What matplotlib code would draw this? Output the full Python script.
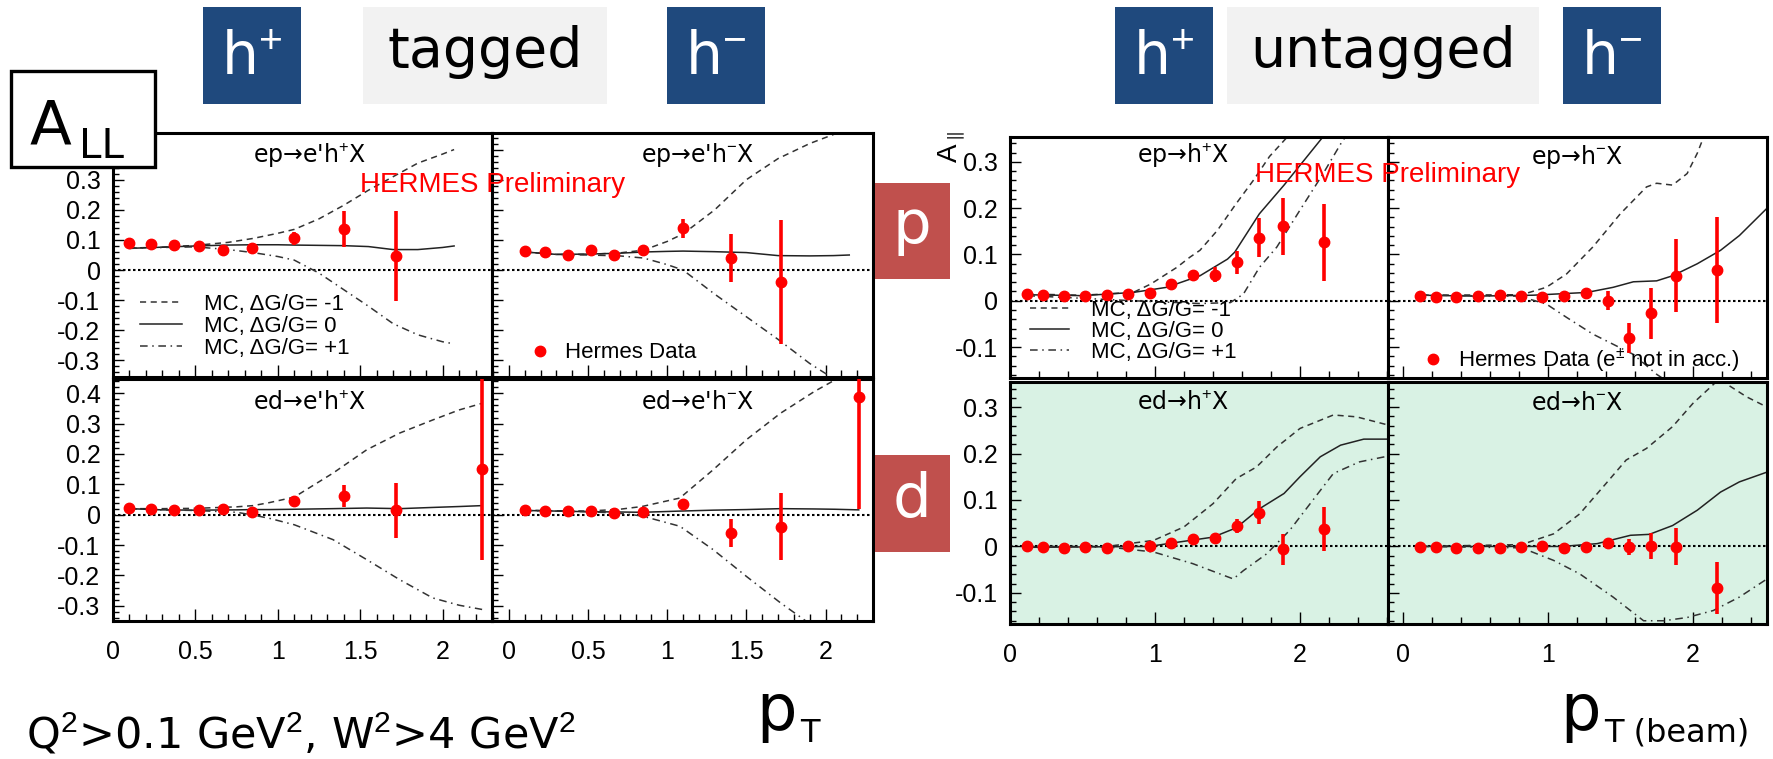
import numpy as np
import matplotlib
matplotlib.use("Agg")
import matplotlib.pyplot as plt
from matplotlib.patches import Rectangle
from matplotlib.ticker import MultipleLocator, FuncFormatter

plt.rcParams['font.family'] = ['Liberation Sans', 'DejaVu Sans']
plt.rcParams['axes.unicode_minus'] = False
plt.rcParams['mathtext.fontset'] = 'custom'
plt.rcParams['mathtext.rm'] = 'Liberation Sans'
plt.rcParams['mathtext.it'] = 'Liberation Sans:italic'

#------------------------------------------------------------------#
# data
# tagged sample (scattered e' in acceptance)
x_tag = [0.10, 0.23, 0.37, 0.52, 0.665, 0.845, 1.10, 1.40, 1.72]
x_tag_ed_hp = x_tag + [2.24]
x_tag_ed_hm = x_tag + [2.21]

a_tag_ep_hp = [0.090, 0.086, 0.082, 0.081, 0.066, 0.074, 0.105, 0.137, 0.046]
e_tag_ep_hp = [0.004, 0.004, 0.004, 0.004, 0.004, 0.005, 0.022, 0.060, 0.150]
a_tag_ep_hm = [0.064, 0.061, 0.050, 0.068, 0.051, 0.066, 0.138, 0.039, -0.039]
e_tag_ep_hm = [0.004, 0.004, 0.004, 0.004, 0.005, 0.006, 0.032, 0.080, 0.205]
a_tag_ed_hp = [0.022, 0.019, 0.016, 0.016, 0.020, 0.008, 0.044, 0.062, 0.014, 0.151]
e_tag_ed_hp = [0.003, 0.003, 0.003, 0.003, 0.004, 0.005, 0.010, 0.036, 0.090, 0.300]
a_tag_ed_hm = [0.014, 0.011, 0.012, 0.012, 0.005, 0.009, 0.036, -0.060, -0.040, 0.389]
e_tag_ed_hm = [0.003, 0.003, 0.003, 0.003, 0.004, 0.005, 0.010, 0.045, 0.110, 0.370]

# MC curves, tagged (dG/G = -1, 0, +1)
mc_tag_ep_hp_x = [0.10, 0.30, 0.50, 0.70, 0.85, 1.00, 1.10, 1.25, 1.40, 1.55, 1.70, 1.85, 2.00, 2.07]
mc_tag_ep_hp_m1 = [0.073, 0.076, 0.082, 0.092, 0.105, 0.122, 0.135, 0.170, 0.215, 0.265, 0.310, 0.355, 0.385, 0.400]
mc_tag_ep_hp_0 = [0.072, 0.076, 0.080, 0.083, 0.084, 0.084, 0.083, 0.082, 0.081, 0.078, 0.068, 0.068, 0.075, 0.080]
mc_tag_ep_hp_p1 = [0.072, 0.075, 0.077, 0.068, 0.058, 0.045, 0.033, -0.010, -0.065, -0.120, -0.178, -0.215, -0.238, -0.245]

mc_tag_ep_hm_x = [0.10, 0.30, 0.50, 0.70, 0.85, 1.00, 1.10, 1.30, 1.50, 1.70, 1.90, 2.05, 2.15]
mc_tag_ep_hm_m1 = [0.060, 0.052, 0.052, 0.057, 0.066, 0.095, 0.120, 0.200, 0.300, 0.370, 0.420, 0.450, 0.470]
mc_tag_ep_hm_0 = [0.060, 0.052, 0.053, 0.056, 0.060, 0.062, 0.063, 0.061, 0.058, 0.048, 0.047, 0.048, 0.050]
mc_tag_ep_hm_p1 = [0.060, 0.052, 0.050, 0.047, 0.040, 0.018, 0.000, -0.080, -0.155, -0.230, -0.310, -0.360, -0.390]

mc_tag_ed_hp_x = [0.10, 0.30, 0.50, 0.75, 0.85, 0.95, 1.10, 1.335, 1.54, 1.74, 1.94, 2.10, 2.24]
mc_tag_ed_hp_m1 = [0.020, 0.020, 0.021, 0.026, 0.030, 0.040, 0.058, 0.137, 0.214, 0.269, 0.312, 0.345, 0.367]
mc_tag_ed_hp_0 = [0.020, 0.016, 0.015, 0.016, 0.017, 0.017, 0.018, 0.020, 0.022, 0.020, 0.024, 0.027, 0.030]
mc_tag_ed_hp_p1 = [0.020, 0.016, 0.014, 0.008, -0.001, -0.012, -0.033, -0.082, -0.148, -0.214, -0.274, -0.298, -0.312]

mc_tag_ed_hm_x = [0.10, 0.30, 0.50, 0.70, 0.84, 1.08, 1.29, 1.50, 1.715, 1.93, 2.06, 2.21]
mc_tag_ed_hm_m1 = [0.015, 0.013, 0.012, 0.018, 0.027, 0.055, 0.148, 0.247, 0.334, 0.406, 0.444, 0.480]
mc_tag_ed_hm_0 = [0.014, 0.012, 0.010, 0.009, 0.008, 0.012, 0.015, 0.017, 0.020, 0.019, 0.018, 0.016]
mc_tag_ed_hm_p1 = [0.014, 0.012, 0.010, 0.005, -0.004, -0.038, -0.115, -0.203, -0.290, -0.370, -0.400, -0.430]

# untagged sample (pT w.r.t. beam)
x_unt = [0.12, 0.23, 0.37, 0.52, 0.67, 0.815, 0.963, 1.113, 1.262, 1.412, 1.563, 1.714, 1.883, 2.165]

a_unt_ep_hp = [0.0145, 0.012, 0.011, 0.011, 0.013, 0.0145, 0.017, 0.036, 0.0565, 0.056, 0.083, 0.136, 0.161, 0.126]
e_unt_ep_hp = [0.003, 0.003, 0.003, 0.003, 0.003, 0.003, 0.004, 0.005, 0.006, 0.016, 0.025, 0.042, 0.062, 0.083]
a_unt_ep_hm = [0.011, 0.009, 0.009, 0.010, 0.0115, 0.011, 0.008, 0.011, 0.016, 0.000, -0.081, -0.027, 0.054, 0.067]
e_unt_ep_hm = [0.003, 0.003, 0.003, 0.003, 0.003, 0.003, 0.004, 0.005, 0.006, 0.020, 0.033, 0.055, 0.079, 0.115]
a_unt_ed_hp = [0.000, -0.001, -0.003, -0.002, -0.003, 0.001, 0.000, 0.007, 0.015, 0.018, 0.044, 0.073, -0.0065, 0.038]
e_unt_ed_hp = [0.002, 0.002, 0.002, 0.002, 0.002, 0.002, 0.003, 0.004, 0.005, 0.007, 0.015, 0.024, 0.034, 0.047]
a_unt_ed_hm = [-0.001, -0.001, -0.003, -0.004, -0.003, -0.001, 0.001, -0.003, -0.001, 0.007, -0.001, 0.001, -0.001, -0.089]
e_unt_ed_hm = [0.002, 0.002, 0.002, 0.002, 0.002, 0.002, 0.003, 0.004, 0.005, 0.007, 0.018, 0.027, 0.040, 0.056]

# MC curves, untagged
mc_unt_ep_hp_m1 = ([0.12, 0.50, 0.85, 0.97, 1.15, 1.24, 1.31, 1.43, 1.56, 1.68, 1.79, 1.93, 2.00],
                   [0.0145, 0.012, 0.018, 0.036, 0.072, 0.094, 0.109, 0.152, 0.210, 0.261, 0.312, 0.360, 0.380])
mc_unt_ep_hp_0 = ([0.12, 0.50, 0.85, 1.08, 1.31, 1.50, 1.55, 1.72, 1.89, 2.15, 2.25],
                  [0.013, 0.011, 0.018, 0.029, 0.054, 0.090, 0.105, 0.188, 0.250, 0.351, 0.390])
mc_unt_ep_hp_p1 = ([0.12, 0.85, 1.31, 1.52, 1.61, 1.72, 1.84, 2.00, 2.16, 2.29, 2.40],
                   [0.011, 0.000, -0.006, -0.004, 0.0145, 0.072, 0.116, 0.196, 0.275, 0.344, 0.390])

mc_unt_ep_hm_m1 = ([0.13, 0.82, 0.99, 1.13, 1.31, 1.50, 1.68, 1.75, 1.86, 1.96, 2.03, 2.07, 2.12],
                   [0.012, 0.013, 0.029, 0.058, 0.116, 0.188, 0.246, 0.254, 0.250, 0.275, 0.319, 0.351, 0.390])
mc_unt_ep_hm_0 = ([0.13, 0.50, 0.90, 1.27, 1.45, 1.59, 1.75, 1.86, 2.03, 2.19, 2.32, 2.51],
                  [0.012, 0.010, 0.012, 0.018, 0.029, 0.041, 0.043, 0.054, 0.080, 0.109, 0.141, 0.200])
mc_unt_ep_hm_p1 = ([0.13, 0.80, 0.99, 1.13, 1.31, 1.45, 1.59, 1.75, 1.85],
                   [0.012, 0.010, -0.007, -0.036, -0.072, -0.094, -0.116, -0.159, -0.180])

mc_unt_ed_hp_m1 = ([0.12, 0.67, 0.99, 1.20, 1.40, 1.56, 1.70, 1.84, 2.00, 2.23, 2.39, 2.60],
                   [0.000, 0.000, 0.013, 0.042, 0.092, 0.146, 0.171, 0.214, 0.254, 0.283, 0.279, 0.262])
mc_unt_ed_hp_0 = ([0.12, 0.96, 1.11, 1.40, 1.56, 1.72, 1.89, 2.00, 2.14, 2.28, 2.44, 2.60],
                  [-0.002, 0.000, 0.007, 0.020, 0.040, 0.081, 0.114, 0.150, 0.193, 0.218, 0.231, 0.231])
mc_unt_ed_hp_p1 = ([0.12, 0.70, 0.99, 1.26, 1.54, 1.61, 1.77, 1.93, 2.07, 2.23, 2.41, 2.60],
                   [0.000, -0.002, -0.012, -0.037, -0.070, -0.052, -0.016, 0.035, 0.092, 0.157, 0.182, 0.194])

mc_unt_ed_hm_m1 = ([0.13, 0.82, 1.04, 1.22, 1.40, 1.54, 1.68, 1.86, 2.00, 2.18, 2.37, 2.51],
                   [0.000, 0.004, 0.027, 0.070, 0.135, 0.186, 0.211, 0.258, 0.308, 0.360, 0.322, 0.300])
mc_unt_ed_hm_0 = ([0.13, 1.10, 1.34, 1.57, 1.70, 1.86, 2.03, 2.19, 2.32, 2.51],
                  [0.000, 0.000, 0.006, 0.024, 0.026, 0.045, 0.078, 0.117, 0.139, 0.160])
mc_unt_ed_hm_p1 = ([0.13, 0.82, 1.04, 1.22, 1.45, 1.66, 1.80, 1.96, 2.14, 2.32, 2.51],
                   [0.000, -0.003, -0.030, -0.059, -0.109, -0.160, -0.160, -0.153, -0.138, -0.109, -0.070])

mc_labels = ["MC, \u0394G/G= -1", "MC, \u0394G/G= 0", "MC, \u0394G/G= +1"]

#------------------------------------------------------------------#
W, H = 1773, 759
fig = plt.figure(figsize=(W / 100, H / 100), dpi=100)

RED = "#ff0000"
DASH = (0, (4, 3))
DASHDOT = (0, (5, 3, 1, 3))
GREEN = "#d9f2e4"
TICKFS = 18
LEGFS = 16


def px_axes(x0, y0, x1, y1):
    # axes placed by pixel box (top-left origin)
    return fig.add_axes([x0 / W, 1 - y1 / H, (x1 - x0) / W, (y1 - y0) / H])


def setup(ax, xlim, ylim, xmaj, xmin, show_x, show_y, face="white", ylab_max=1.0):
    ax.set_xlim(xlim)
    ax.set_ylim(ylim)
    ax.set_facecolor(face)
    ax.xaxis.set_major_locator(MultipleLocator(xmaj))
    ax.xaxis.set_minor_locator(MultipleLocator(xmin))
    ax.yaxis.set_major_locator(MultipleLocator(0.1))
    ax.yaxis.set_minor_locator(MultipleLocator(0.02))
    ax.xaxis.set_major_formatter(FuncFormatter(lambda v, p: "%g" % (round(v, 3) + 0.0)))
    ax.yaxis.set_major_formatter(FuncFormatter(
        lambda v, p: "%g" % (round(v, 3) + 0.0) if v < ylab_max else ""))
    ax.tick_params(which="both", direction="in", top=False, right=False,
                   labelbottom=show_x, labelleft=show_y, labelsize=TICKFS)
    ax.tick_params(axis="y", which="major", length=8, width=1, pad=9)
    ax.tick_params(axis="y", which="minor", length=4, width=1)
    ax.tick_params(axis="x", which="major", length=9, width=1, pad=14)
    ax.tick_params(axis="x", which="minor", length=5, width=1)
    for s in ax.spines.values():
        s.set_linewidth(2.2)


def draw(ax, x, a, da, c_m1, c_0, c_p1, data_label=None):
    ax.axhline(0, color="k", lw=1.5, ls=(0, (1.2, 1.2)), zorder=1)
    l1, = ax.plot(c_m1[0], c_m1[1], color="#333333", lw=1.1, ls=DASH, label=mc_labels[0])
    l2, = ax.plot(c_0[0], c_0[1], color="#222222", lw=1.1, ls="-", label=mc_labels[1])
    l3, = ax.plot(c_p1[0], c_p1[1], color="#333333", lw=1.1, ls=DASHDOT, label=mc_labels[2])
    ax.errorbar(x, a, yerr=da, fmt="none", ecolor=RED, elinewidth=2.6, capsize=0, zorder=3)
    pts, = ax.plot(x, a, "o", color=RED, ms=7.5, zorder=4, label=data_label)
    return [l1, l2, l3], pts


tag_lim_l = (0.0, 2.30)
tag_lim_r = (-0.107, 2.30)
unt_lim_l = (0.0, 2.607)
unt_lim_r = (-0.10, 2.51)
tag_ylim_top = (-0.355, 0.455)
tag_ylim_bot = (-0.35, 0.447)
unt_ylim = (-0.167, 0.354)

# tagged panels
ax = px_axes(113, 133, 492, 377)
setup(ax, tag_lim_l, tag_ylim_top, 0.5, 0.1, False, True, ylab_max=0.35)
lines, _ = draw(ax, x_tag, a_tag_ep_hp, e_tag_ep_hp,
                (mc_tag_ep_hp_x, mc_tag_ep_hp_m1), (mc_tag_ep_hp_x, mc_tag_ep_hp_0),
                (mc_tag_ep_hp_x, mc_tag_ep_hp_p1))
ax.legend(handles=lines, loc="upper left", bbox_to_anchor=(0.071, 0.34), frameon=False,
          fontsize=LEGFS, handlelength=1.9, handletextpad=1.0, labelspacing=0.05,
          borderpad=0, borderaxespad=0)

ax = px_axes(492, 133, 873, 377)
setup(ax, tag_lim_r, tag_ylim_top, 0.5, 0.1, False, False)
_, pts = draw(ax, x_tag, a_tag_ep_hm, e_tag_ep_hm,
              (mc_tag_ep_hm_x, mc_tag_ep_hm_m1), (mc_tag_ep_hm_x, mc_tag_ep_hm_0),
              (mc_tag_ep_hm_x, mc_tag_ep_hm_p1), data_label="Hermes Data")
ax.legend(handles=[pts], loc="upper left", bbox_to_anchor=(0.097, 0.142), frameon=False,
          fontsize=LEGFS, handlelength=1.0, handletextpad=0.6, borderpad=0, borderaxespad=0)

ax = px_axes(113, 379, 492, 621)
setup(ax, tag_lim_l, tag_ylim_bot, 0.5, 0.1, True, True)
draw(ax, x_tag_ed_hp, a_tag_ed_hp, e_tag_ed_hp,
     (mc_tag_ed_hp_x, mc_tag_ed_hp_m1), (mc_tag_ed_hp_x, mc_tag_ed_hp_0),
     (mc_tag_ed_hp_x, mc_tag_ed_hp_p1))

ax = px_axes(492, 379, 873, 621)
setup(ax, tag_lim_r, tag_ylim_bot, 0.5, 0.1, True, False)
draw(ax, x_tag_ed_hm, a_tag_ed_hm, e_tag_ed_hm,
     (mc_tag_ed_hm_x, mc_tag_ed_hm_m1), (mc_tag_ed_hm_x, mc_tag_ed_hm_0),
     (mc_tag_ed_hm_x, mc_tag_ed_hm_p1))

# untagged panels
ax = px_axes(1010, 137, 1388, 378)
setup(ax, unt_lim_l, unt_ylim, 1.0, 0.2, False, True)
lines, _ = draw(ax, x_unt, a_unt_ep_hp, e_unt_ep_hp, mc_unt_ep_hp_m1, mc_unt_ep_hp_0, mc_unt_ep_hp_p1)
ax.legend(handles=lines, loc="upper left", bbox_to_anchor=(0.053, 0.325), frameon=False,
          fontsize=LEGFS, handlelength=1.75, handletextpad=1.0, labelspacing=0.0,
          borderpad=0, borderaxespad=0)

ax = px_axes(1388, 137, 1767, 378)
setup(ax, unt_lim_r, unt_ylim, 1.0, 0.2, False, False)
_, pts = draw(ax, x_unt, a_unt_ep_hm, e_unt_ep_hm, mc_unt_ep_hm_m1, mc_unt_ep_hm_0, mc_unt_ep_hm_p1,
              data_label="Hermes Data (e$^{\\pm}$ not in acc.)")
ax.legend(handles=[pts], loc="upper left", bbox_to_anchor=(0.09, 0.13), frameon=False,
          fontsize=LEGFS, handlelength=1.0, handletextpad=0.6, borderpad=0, borderaxespad=0)

ax = px_axes(1010, 382, 1388, 624)
setup(ax, unt_lim_l, unt_ylim, 1.0, 0.2, True, True, face=GREEN)
draw(ax, x_unt, a_unt_ed_hp, e_unt_ed_hp, mc_unt_ed_hp_m1, mc_unt_ed_hp_0, mc_unt_ed_hp_p1)

ax = px_axes(1388, 382, 1767, 624)
setup(ax, unt_lim_r, unt_ylim, 1.0, 0.2, True, False, face=GREEN)
draw(ax, x_unt, a_unt_ed_hm, e_unt_ed_hm, mc_unt_ed_hm_m1, mc_unt_ed_hm_0, mc_unt_ed_hm_p1)

#------------------------------------------------------------------#
# slide decorations in pixel coordinates
ov = fig.add_axes([0, 0, 1, 1])
ov.set_xlim(0, W)
ov.set_ylim(H, 0)
ov.axis("off")
ov.set_zorder(10)

BLUE = "#1f497d"
GRAY = "#f2f2f2"
BOXRED = "#c0504d"
HAND = ["DejaVu Sans"]

for x0, w, c in [(203, 98, BLUE), (363, 244, GRAY), (667, 98, BLUE),
                 (1115, 98, BLUE), (1227, 312, GRAY), (1563, 98, BLUE)]:
    ov.add_patch(Rectangle((x0, 7), w, 97, facecolor=c, edgecolor="none"))
ov.text(252, 58, "h$^{+}$", color="white", fontsize=42, family=HAND, ha="center", va="center")
ov.text(485, 52, "tagged", color="black", fontsize=40, family=HAND, ha="center", va="center")
ov.text(716, 58, "h$^{-}$", color="white", fontsize=42, family=HAND, ha="center", va="center")
ov.text(1164, 58, "h$^{+}$", color="white", fontsize=42, family=HAND, ha="center", va="center")
ov.text(1383, 52, "untagged", color="black", fontsize=40, family=HAND, ha="center", va="center")
ov.text(1612, 58, "h$^{-}$", color="white", fontsize=42, family=HAND, ha="center", va="center")

# A_LL box
ov.add_patch(Rectangle((11, 71), 144, 96, facecolor="white", edgecolor="black", lw=2.4))
ov.text(30, 143, "A", fontsize=44, family=HAND, ha="left", va="baseline")
ov.text(79, 158, "LL", fontsize=29, family=HAND, ha="left", va="baseline")

# target boxes
ov.add_patch(Rectangle((875, 183), 75, 96, facecolor=BOXRED, edgecolor="none"))
ov.text(912, 226, "p", color="white", fontsize=44, family=HAND, ha="center", va="center")
ov.add_patch(Rectangle((875, 455), 75, 97, facecolor=BOXRED, edgecolor="none"))
ov.text(912, 500, "d", color="white", fontsize=44, family=HAND, ha="center", va="center")

# panel titles (DejaVu for a full-width arrow)
titles = [(310, 155, "ep\u2192e'h$^{+}$X"), (698, 155, "ep\u2192e'h$^{-}$X"),
          (310, 402, "ed\u2192e'h$^{+}$X"), (698, 402, "ed\u2192e'h$^{-}$X"),
          (1183, 155, "ep\u2192h$^{+}$X"), (1577, 157, "ep\u2192h$^{-}$X"),
          (1183, 402, "ed\u2192h$^{+}$X"), (1577, 403, "ed\u2192h$^{-}$X")]
for tx, ty, s in titles:
    ov.text(tx, ty, s, fontsize=17, family=["DejaVu Sans"], ha="center", va="center")

ov.text(360, 185, "HERMES Preliminary", color=RED, fontsize=20, ha="left", va="center")
ov.text(1255, 175, "HERMES Preliminary", color=RED, fontsize=20, ha="left", va="center")

# y title of the untagged panels
ov.text(952, 147, "A$_{\\parallel}$", fontsize=20, rotation=90, ha="center", va="center")

# bottom captions
ov.text(26, 748, "Q$^{2}$>0.1 GeV$^{2}$, W$^{2}$>4 GeV$^{2}$", fontsize=31, family=HAND,
        ha="left", va="baseline")
ov.text(756, 730, "p", fontsize=46, family=HAND, ha="left", va="baseline")
ov.text(800, 742, "T", fontsize=23, family=HAND, ha="left", va="baseline")
ov.text(1560, 730, "p", fontsize=46, family=HAND, ha="left", va="baseline")
ov.text(1604, 742, "T (beam)", fontsize=23, family=HAND, ha="left", va="baseline")

fig.savefig("out.png", dpi=100)
